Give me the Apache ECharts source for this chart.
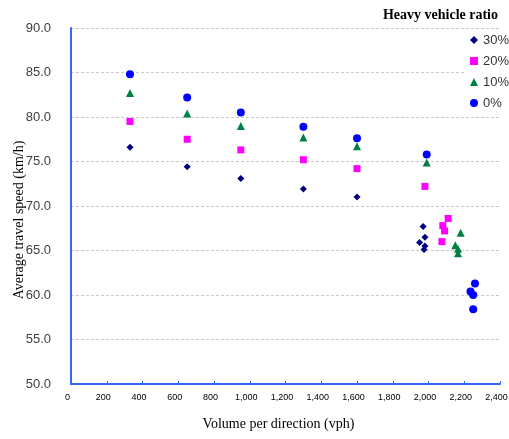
<!DOCTYPE html>
<html><head><meta charset="utf-8">
<script src="https://cdn.jsdelivr.net/npm/echarts@6/dist/echarts.min.js"></script>
<style>html,body{margin:0;padding:0;background:#fff}#c{width:509px;height:439px}</style>
</head><body><div id="c"></div>
<script>
const seriesNames = ['30%', '20%', '10%', '0%'];
const xTicks = [0, 200, 400, 600, 800, 1000, 1200, 1400, 1600, 1800, 2000, 2200, 2400];
const yTicks = [50, 55, 60, 65, 70, 75, 80, 85, 90];

const x30 = [330, 650, 950, 1300, 1600, 1970, 1980, 1950, 1980, 1975];
const y30 = [76.6, 74.4, 73.1, 71.9, 71.0, 67.7, 66.5, 65.9, 65.5, 65.1];
const x20 = [330, 650, 950, 1300, 1600, 1980, 2110, 2080, 2090, 2075];
const y20 = [79.5, 77.5, 76.3, 75.2, 74.2, 72.2, 68.6, 67.8, 67.2, 66.0];
const x10 = [330, 650, 950, 1300, 1600, 1990, 2180, 2150, 2165, 2165];
const y10 = [82.7, 80.4, 79.0, 77.7, 76.7, 74.9, 67.0, 65.6, 65.2, 64.7];
const x0 = [330, 650, 950, 1300, 1600, 1990, 2260, 2235, 2250, 2250];
const y0 = [84.8, 82.2, 80.5, 78.9, 77.6, 75.8, 61.3, 60.4, 60.0, 58.4];

const pairs = (xs, ys) => xs.map((x, i) => [x, ys[i]]);
const seriesData = [pairs(x30, y30), pairs(x20, y20), pairs(x10, y10), pairs(x0, y0)];
const symbols = ['diamond', 'rect', 'triangle', 'circle'];
const sizes = [7, 7, 8, 8];
const colors = ['#000080', '#ff00ff', '#008040', '#0000ff'];

const chart = echarts.init(document.getElementById('c'), null, {renderer: 'canvas'});
chart.setOption({
  animation: false,
  backgroundColor: '#fff',
  title: {
    text: 'Heavy vehicle ratio',
    right: 6, top: 3,
    textStyle: {fontFamily: 'Liberation Serif', fontWeight: 'bold', fontSize: 14, color: '#000'}
  },
  legend: {
    orient: 'vertical',
    left: 466, top: 29,
    padding: [4, 10, 4, 4],
    backgroundColor: '#fff',
    itemWidth: 8, itemHeight: 8, itemGap: 7, itemTextGap: 1,
    data: seriesNames,
    textStyle: {fontFamily: 'Liberation Sans', fontSize: 13, color: '#333', lineHeight: 14}
  },
  grid: {left: 71, right: 9, top: 28, bottom: 55, containLabel: false, outerBoundsMode: 'none'},
  xAxis: {
    type: 'value', min: xTicks[0], max: xTicks[xTicks.length - 1], interval: 200,
    name: 'Volume per direction (vph)', nameLocation: 'middle', nameGap: 33, nameMoveOverlap: false,
    nameTextStyle: {fontFamily: 'Liberation Serif', fontSize: 14, color: '#000', padding: [0, 14, 0, 0]},
    axisLine: {lineStyle: {color: '#3366ff', width: 2}},
    axisTick: {show: true, inside: true, length: 3, lineStyle: {color: '#3366ff'}},
    axisLabel: {fontFamily: 'Liberation Sans', fontSize: 9, color: '#000', margin: 9,
      padding: [0, 7, 0, 0], showMaxLabel: true, showMinLabel: true, hideOverlap: false,
      formatter: v => v.toLocaleString('en-US')},
    splitLine: {show: false}
  },
  yAxis: {
    type: 'value', min: yTicks[0], max: yTicks[yTicks.length - 1], interval: 5,
    name: 'Average travel speed (km/h)', nameLocation: 'middle', nameGap: 45, nameMoveOverlap: false,
    nameTextStyle: {fontFamily: 'Liberation Serif', fontSize: 14, color: '#000', padding: [0, 28, 0, 0]},
    axisLine: {show: true, lineStyle: {color: '#3366ff', width: 2}},
    axisTick: {show: false},
    axisLabel: {fontFamily: 'Liberation Sans', fontSize: 13, color: '#404040', margin: 20,
      formatter: v => v.toFixed(1)},
    splitLine: {show: true, lineStyle: {color: '#c8c8c8', type: [3, 2], width: 1}}
  },
  series: seriesNames.map((n, i) => ({
    name: n, type: 'scatter', data: seriesData[i],
    symbol: symbols[i], symbolSize: sizes[i],
    itemStyle: {color: colors[i], opacity: 1}, z: 2 + i
  }))
});
</script></body></html>
